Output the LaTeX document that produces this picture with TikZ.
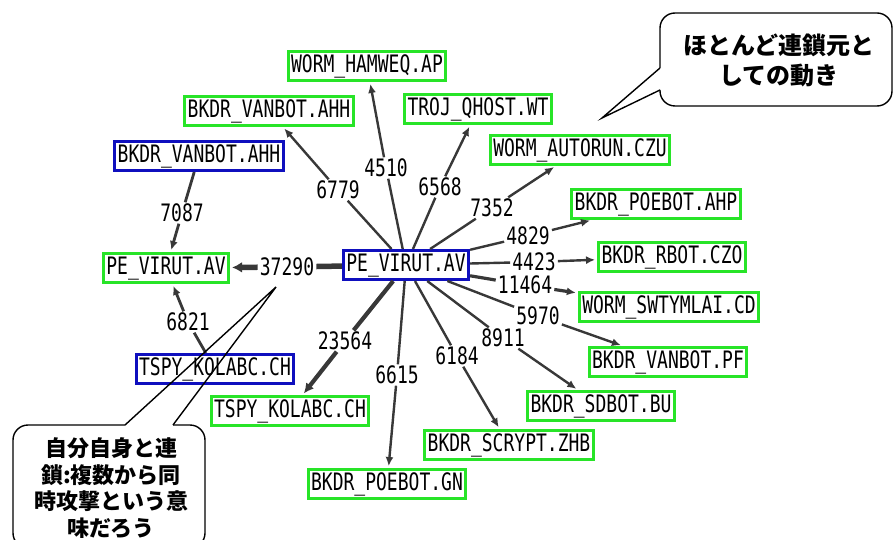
\documentclass[tikz,border=0pt]{standalone}
\usepackage{fontspec}
\usetikzlibrary{arrows.meta}
\newfontfamily\lblfont[FakeStretch=0.75]{DejaVu Sans Mono}
\newfontfamily\jpfont{Noto Sans CJK JP}
\definecolor{boxgreen}{RGB}{40,228,40}
\definecolor{boxblue}{RGB}{15,15,190}
\definecolor{edgegray}{RGB}{56,56,56}

\begin{document}
\begin{tikzpicture}[x=1pt,y=-1pt]
\tikzset{
  virus/.style={draw=boxgreen,line width=3pt,fill=white,
    font=\lblfont\fontsize{24}{24}\selectfont,
    text height=17pt,text depth=4pt,inner xsep=3pt,inner ysep=4pt},
  origin/.style={virus,draw=boxblue},
  count/.style={font=\lblfont\fontsize{24}{24}\selectfont,
    text height=17pt,text depth=0pt,inner sep=2pt},
  chain/.style={draw=edgegray,line width=2.4pt,shorten >=2pt,
    -{Latex[length=9pt,width=8pt]}},
  bubble/.style={draw=black,line width=1.4pt},
  note/.style={font=\jpfont\bfseries,align=center,inner sep=0pt}
}
\useasboundingbox (0,0) rectangle (893,540);

\node[origin] (pv) at (406,265) {PE\_VIRUT.AV};
\node[virus] (virut) at (166,268) {PE\_VIRUT.AV};
\node[origin] (vanbotsrc) at (199,156) {BKDR\_VANBOT.AHH};
\node[origin] (kolabcsrc) at (215,369) {TSPY\_KOLABC.CH};
\node[virus] (hamweq) at (367,66) {WORM\_HAMWEQ.AP};
\node[virus] (vanbot) at (269,111) {BKDR\_VANBOT.AHH};
\node[virus] (qhost) at (478,109) {TROJ\_QHOST.WT};
\node[virus] (autorun) at (580,150) {WORM\_AUTORUN.CZU};
\node[virus] (poebotahp) at (656,204) {BKDR\_POEBOT.AHP};
\node[virus] (rbot) at (672,257) {BKDR\_RBOT.CZO};
\node[virus] (swtymlai) at (669,307) {WORM\_SWTYMLAI.CD};
\node[virus] (vanbotpf) at (668,362) {BKDR\_VANBOT.PF};
\node[virus] (sdbot) at (601,406) {BKDR\_SDBOT.BU};
\node[virus] (scrypt) at (509,445) {BKDR\_SCRYPT.ZHB};
\node[virus] (poebotgn) at (387,484) {BKDR\_POEBOT.GN};
\node[virus] (kolabc) at (290,411) {TSPY\_KOLABC.CH};

\node[count] (n37290) at (287,267) {37290};
\node[count] (n7087) at (182,213) {7087};
\node[count] (n6821) at (188,322) {6821};
\node[count] (n6779) at (338,190) {6779};
\node[count] (n4510) at (386,168) {4510};
\node[count] (n6568) at (440,187) {6568};
\node[count] (n7352) at (492,208) {7352};
\node[count] (n4829) at (528,236) {4829};
\node[count] (n4423) at (534,262) {4423};
\node[count] (n11464) at (525,285) {11464};
\node[count] (n5970) at (538,316) {5970};
\node[count] (n8911) at (503,338) {8911};
\node[count] (n6184) at (457,356) {6184};
\node[count] (n6615) at (397,375) {6615};
\node[count] (n23564) at (345,341) {23564};

\foreach \num/\dst in {4510/hamweq,6779/vanbot,6568/qhost,7352/autorun,
    4829/poebotahp,4423/rbot,5970/vanbotpf,8911/sdbot,6184/scrypt,6615/poebotgn}
  \draw[chain] (pv) -- (n\num) (n\num) -- (\dst);
\draw[chain,line width=3.2pt] (pv) -- (n11464) (n11464) -- (swtymlai);
\draw[chain,line width=4.2pt,-{Latex[length=10pt,width=10pt]}] (pv) -- (n23564) (n23564) -- (kolabc);
\draw[chain,line width=5.5pt,-{Latex[length=10pt,width=11pt]}] (pv) -- (n37290) (n37290) -- (virut);
\draw[chain,line width=2.8pt] (vanbotsrc) -- (n7087) (n7087) -- (virut);
\draw[chain,line width=2.8pt] (kolabcsrc) -- (n6821) (n6821) -- (virut);

% callouts
\draw[bubble,rounded corners=15pt] (660,90) -- (660,106) -- (892,106) -- (892,13) -- (660,13) -- (660,68);
\draw[bubble] (660,68) -- (602,118) -- (660,90);
\node[note,font=\jpfont\bfseries\fontsize{24}{30}\selectfont] (topnote) at (779,60) {ほとんど連鎖元と\\しての動き};

\draw[bubble,rounded corners=15pt] (125,425) -- (13,425) -- (13,548) -- (205,548) -- (205,425) -- (173,425);
\draw[bubble] (125,425) -- (276,287) -- (173,425);
\node[note,font=\jpfont\bfseries\fontsize{22}{26.7}\selectfont] (leftnote) at (111,488) {自分自身と連\\鎖:複数から同\\時攻撃という意\\味だろう};
\end{tikzpicture}
\end{document}
